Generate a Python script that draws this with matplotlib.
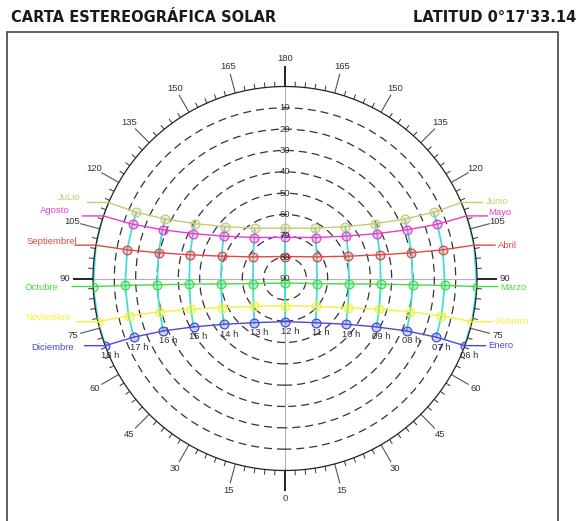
import numpy as np
import matplotlib
matplotlib.use("Agg")
import matplotlib.pyplot as plt
from matplotlib.patches import Rectangle

# hours after solar noon; the morning half of each path mirrors the afternoon
hours_from_noon = [0, 1, 2, 3, 4, 5, 6]
afternoon_labels = ["12 h", "13 h", "14 h", "15 h", "16 h", "17 h", "18 h"]
morning_labels = ["12 h", "11 h", "10 h", "09 h", "08 h", "07 h", "06 h"]

# sun altitude (deg) and azimuth (deg, 0 bottom .. 180 top) for each hour
alt_junio = [66.4, 62.5, 52.7, 40.5, 27.3, 13.8, -0.1]
az_junio = [180.0, 149.0, 130.7, 121.3, 116.4, 114.0, 113.3]
alt_mayo = [70.7, 66.0, 55.0, 42.0, 28.2, 14.2, -0.1]
az_mayo = [180.0, 143.1, 124.6, 116.0, 111.7, 109.6, 109.0]
alt_abril = [79.7, 72.0, 58.5, 44.1, 29.5, 14.8, -0.05]
az_abril = [180.0, 124.3, 109.4, 104.0, 101.5, 100.3, 100.0]
alt_marzo = [87.9, 74.8, 59.9, 45.0, 30.0, 15.0, 0.01]
az_marzo = [0.0, 80.8, 85.2, 86.6, 87.2, 87.5, 87.6]
alt_febrero = [77.3, 70.3, 57.5, 43.6, 29.2, 14.6, 0.07]
az_febrero = [0.0, 48.3, 65.2, 71.9, 75.1, 76.6, 77.0]
alt_enero = [69.8, 64.8, 54.2, 41.5, 27.9, 14.0, 0.1]
az_enero = [0.0, 34.7, 53.2, 62.1, 66.7, 68.8, 69.5]

right_labels = ["Junio", "Mayo", "Abril", "Marzo", "Febrero", "Enero"]
left_labels = ["JuLio", "Agosto", "Septiembrel", "Octubre", "Noviembre", "Diciembre"]
ring_altitudes = [10, 20, 30, 40, 50, 60, 70, 80, 90]
azimuth_marks = list(range(0, 360, 15))
azimuth_minor = list(range(0, 360, 3))

colors = ["#c8c878", "#e83ccc", "#e04848", "#44dd44", "#f2f23a", "#4a4ad8"]
hour_color = "#3fdede"

paths = [
    (alt_junio, az_junio),
    (alt_mayo, az_mayo),
    (alt_abril, az_abril),
    (alt_marzo, az_marzo),
    (alt_febrero, az_febrero),
    (alt_enero, az_enero),
]

# label offsets in pixels from the horizon end of each path
left_offsets = [(-28, 5), (-34, 5), (-19, 4), (-35, -1), (-27, 4), (-31, -2)]
right_offsets = [(24, 1), (22, 3), (24, 0), (23, -1), (23, 0), (24, 0)]

label_font = "Liberation Sans"
label_size = 6.8

fig = plt.figure(figsize=(5.76, 5.21), dpi=100)
fig.patch.set_facecolor("white")
fig.add_artist(Rectangle((7 / 576, -0.01), 551 / 576, 1 - 32 / 521 + 0.01,
                         transform=fig.transFigure, fill=False, ec="#333333", lw=1.1))
fig.text(11 / 576, 1 - 18 / 521, "CARTA ESTEREOGRÁFICA SOLAR", fontsize=10.5,
         fontweight="bold", family="DejaVu Sans", color="#1a1a1a", va="center", ha="left")
fig.text(413 / 576, 1 - 18 / 521, "LATITUD 0°17'33.14", fontsize=10.5,
         fontweight="bold", family="DejaVu Sans", color="#1a1a1a", va="center", ha="left")

ax = fig.add_axes([93 / 576, 50.5 / 521, 384 / 576, 384 / 521], projection="polar")
ax.set_theta_zero_location("S")
ax.set_theta_direction(-1)
ax.set_ylim(0, 90)
ax.spines["polar"].set_color("#222222")
ax.spines["polar"].set_linewidth(0.9)

# dashed altitude rings
ax.set_yticks([90 - a for a in ring_altitudes[:-1]])
ax.set_yticklabels([])
ax.yaxis.grid(True, color="#333333", linestyle=(0, (6.4, 4)), linewidth=0.9)
ax.set_xticks([])
ax.xaxis.grid(False)

# azimuth ticks outside the horizon circle
for deg in azimuth_minor:
    if deg % 15:
        ax.plot([np.deg2rad(deg)] * 2, [90, 92.4], color="#333333", lw=0.7,
                clip_on=False, solid_capstyle="butt")
for deg in azimuth_marks:
    cardinal = deg % 90 == 0
    ax.plot([np.deg2rad(deg)] * 2, [90, 99.4], color="black" if cardinal else "#555555",
            lw=1.2 if cardinal else 0.8, clip_on=False, solid_capstyle="butt")
    value = deg if deg <= 180 else 360 - deg
    ax.text(np.deg2rad(deg), 103.1, str(value), ha="center", va="center",
            family=label_font, fontsize=label_size, color="#333333", clip_on=False)

# N-S and E-W reference lines
ax.plot([0, np.pi], [90, 90], color="#b4b4b4", lw=0.8, zorder=1)
ax.plot([np.pi / 2, 3 * np.pi / 2], [90, 90], color="#b4b4b4", lw=0.8, zorder=1)

for alt in ring_altitudes:
    ax.text(np.pi, 90 - alt, str(alt), ha="center", va="center",
            family=label_font, fontsize=label_size, color="#333333", zorder=6)

# full-day coordinates, from 06 h (east, right) to 18 h (west, left)
full_theta = []
full_r = []
for alt, az in paths:
    theta = [-a for a in az[::-1]] + az[1:]
    r = [90 - a for a in alt[::-1] + alt[1:]]
    full_theta.append(np.deg2rad(theta))
    full_r.append(np.array(r))

# hour lines across the months
n_points = len(full_r[0])
for k in range(n_points):
    ax.plot([t[k] for t in full_theta], [r[k] for r in full_r],
            color=hour_color, lw=1.3, zorder=2)

for i, (alt, az) in enumerate(paths):
    c = colors[i]
    theta, r = full_theta[i], full_r[i]
    ax.plot(theta, r, color=c, lw=1.0, zorder=3)
    up = (90 - r) >= 0
    ax.plot(theta[up], r[up], linestyle="none", marker="o", markersize=6.3,
            markeredgecolor=c, markerfacecolor=matplotlib.colors.to_rgba(c, 0.25),
            markeredgewidth=0.9, zorder=4)

    # leader lines and month names at both horizon ends
    for side, name, (dx, dy) in ((1, left_labels[i], left_offsets[i]),
                                 (-1, right_labels[i], right_offsets[i])):
        end = (np.deg2rad(side * az[-1]), 90 - alt[-1])
        ax.annotate("", xy=end, xytext=(-21 * side, 0), textcoords="offset pixels",
                    annotation_clip=False,
                    arrowprops=dict(arrowstyle="-", color=c, lw=1.0, shrinkA=0, shrinkB=0))
        ax.annotate(name, xy=end, xytext=(dx, dy), textcoords="offset pixels",
                    ha="right" if side == 1 else "left", va="center",
                    family=label_font, fontsize=label_size, color=c,
                    annotation_clip=False)

# hour names under the lowest path
low_theta, low_r = full_theta[-1], full_r[-1]
hour_names = morning_labels[::-1] + afternoon_labels[1:]
for t, r, name in zip(low_theta, low_r, hour_names):
    ax.annotate(name, xy=(t, r), xytext=(5, -10), textcoords="offset pixels",
                ha="center", va="center", family=label_font, fontsize=label_size,
                color="#333333", annotation_clip=False, zorder=6)

fig.savefig("out.png", dpi=100)
